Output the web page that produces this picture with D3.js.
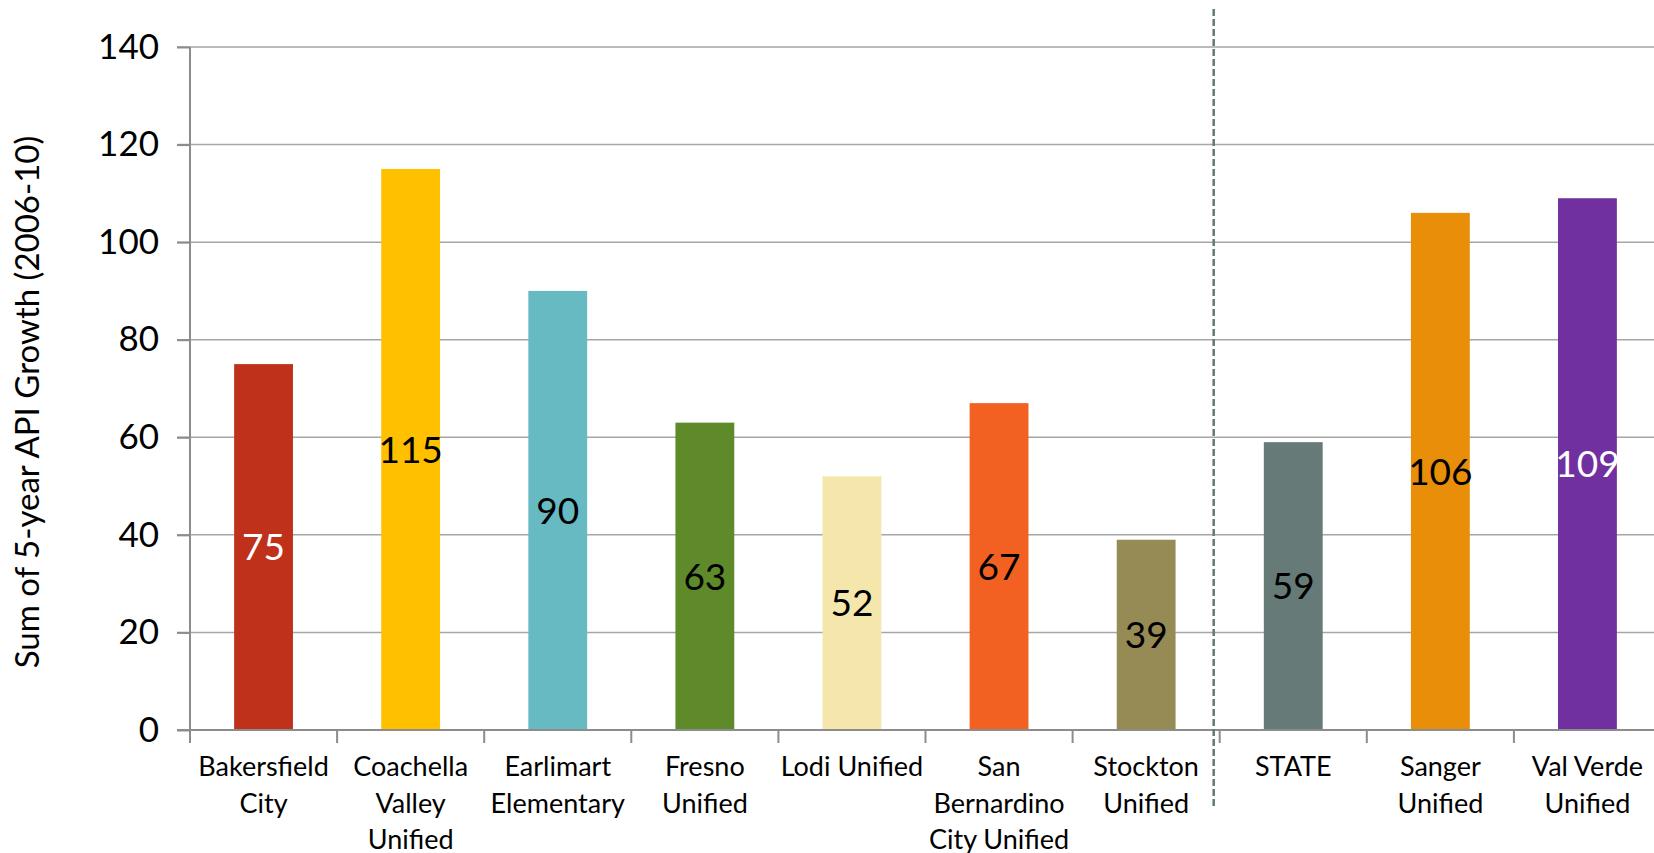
<!DOCTYPE html>
<html>
<head>
<meta charset="utf-8">
<script src="https://cdn.jsdelivr.net/npm/d3@7"></script>
<style>
  html, body { margin: 0; padding: 0; background: #fff; }
  svg { display: block; }
  text { font-family: Lato, "Liberation Sans", sans-serif; }
</style>
</head>
<body>
<svg id="chart" width="1654" height="853"></svg>
<script>
// districts, in the order shown
var categories = ["Bakersfield City", "Coachella Valley Unified", "Earlimart Elementary", "Fresno Unified",
    "Lodi Unified", "San Bernardino City Unified", "Stockton Unified", "STATE", "Sanger Unified", "Val Verde Unified"];
var labelLines = [["Bakersfield", "City"], ["Coachella", "Valley", "Unified"], ["Earlimart", "Elementary"],
    ["Fresno", "Unified"], ["Lodi Unified"], ["San", "Bernardino", "City Unified"], ["Stockton", "Unified"],
    ["STATE"], ["Sanger", "Unified"], ["Val Verde", "Unified"]];
var growth = [75, 115, 90, 63, 52, 67, 39, 59, 106, 109];
var barColors = ["#c0311b", "#ffc000", "#67b9c2", "#5e8a2a", "#f5e6ab", "#f26022", "#968b55", "#667b78", "#e88e09", "#7030a0"];
var labelColors = ["#fff", "#000", "#000", "#000", "#000", "#000", "#000", "#000", "#000", "#fff"];
var yTicks = [0, 20, 40, 60, 80, 100, 120, 140];
var yTitle = "Sum of 5-year API Growth (2006-10)";
var splitAfter = "Stockton Unified";

var svg = d3.select("#chart");

var x = d3.scaleBand().domain(categories).range([190, 1661]).paddingInner(0.6).paddingOuter(0.3);
var y = d3.scaleLinear().domain([0, 140]).range([730, 47]);

// gridlines
svg.append("g").selectAll("line").data(yTicks.slice(1)).join("line")
    .attr("x1", 177).attr("x2", 1654)
    .attr("y1", function(d) { return y(d); }).attr("y2", function(d) { return y(d); })
    .attr("stroke", "#a6a6a6").attr("stroke-width", 1.5);

// y axis
var yAxis = svg.append("g").attr("transform", "translate(190,0)")
    .call(d3.axisLeft(y).tickValues(yTicks).tickSize(13).tickPadding(18));
yAxis.select(".domain").remove();
yAxis.selectAll(".tick line").attr("stroke", "#8c8c8c").attr("stroke-width", 2);
yAxis.selectAll(".tick text").attr("font-size", 35).attr("fill", "#000")
    .attr("font-family", "Lato, sans-serif");
svg.append("line").attr("x1", 190).attr("x2", 190).attr("y1", y(140)).attr("y2", y(0))
    .attr("stroke", "#8c8c8c").attr("stroke-width", 2);

// bars
svg.append("g").selectAll("rect").data(growth).join("rect")
    .attr("x", function(d, i) { return x(categories[i]); })
    .attr("y", function(d) { return y(d); })
    .attr("width", x.bandwidth())
    .attr("height", function(d) { return y(0) - y(d); })
    .attr("fill", function(d, i) { return barColors[i]; });

// x axis line + ticks at band boundaries
svg.append("line").attr("x1", 177).attr("x2", 1654).attr("y1", y(0)).attr("y2", y(0))
    .attr("stroke", "#8c8c8c").attr("stroke-width", 2);
var bounds = d3.range(categories.length + 1).map(function(i) { return x.range()[0] + i * x.step(); });
svg.append("g").selectAll("line").data(bounds).join("line")
    .attr("x1", function(d) { return d; }).attr("x2", function(d) { return d; })
    .attr("y1", y(0)).attr("y2", y(0) + 13)
    .attr("stroke", "#8c8c8c").attr("stroke-width", 2);

// category labels
var catG = svg.append("g").selectAll("text").data(labelLines).join("text")
    .attr("text-anchor", "middle").attr("font-size", 27).attr("fill", "#000")
    .attr("transform", function(d, i) { return "translate(" + (x(categories[i]) + x.bandwidth() / 2) + "," + (y(0) + 46) + ")"; });
catG.selectAll("tspan").data(function(d) { return d; }).join("tspan")
    .attr("x", 0).attr("dy", function(d, j) { return j === 0 ? 0 : 36.5; })
    .text(function(d) { return d; });

// value labels, centred in bars
svg.append("g").selectAll("text").data(growth).join("text")
    .attr("x", function(d, i) { return x(categories[i]) + x.bandwidth() / 2; })
    .attr("y", function(d) { return (y(d) + y(0)) / 2; })
    .attr("dy", "0.36em")
    .attr("text-anchor", "middle").attr("font-size", 37)
    .attr("fill", function(d, i) { return labelColors[i]; })
    .text(function(d) { return d; });

// dashed separator
var splitX = x(splitAfter) + x.bandwidth() + (x.step() - x.bandwidth()) / 2 - 6;
svg.append("line").attr("x1", splitX).attr("x2", splitX).attr("y1", 9).attr("y2", 808)
    .attr("stroke", "#627976").attr("stroke-width", 2.5).attr("stroke-dasharray", "7,3");

// y title
svg.append("text")
    .attr("transform", "translate(27,402) rotate(-90)")
    .attr("text-anchor", "middle").attr("dy", "0.35em")
    .attr("font-size", 33).attr("fill", "#000")
    .text(yTitle);
</script>
</body>
</html>
